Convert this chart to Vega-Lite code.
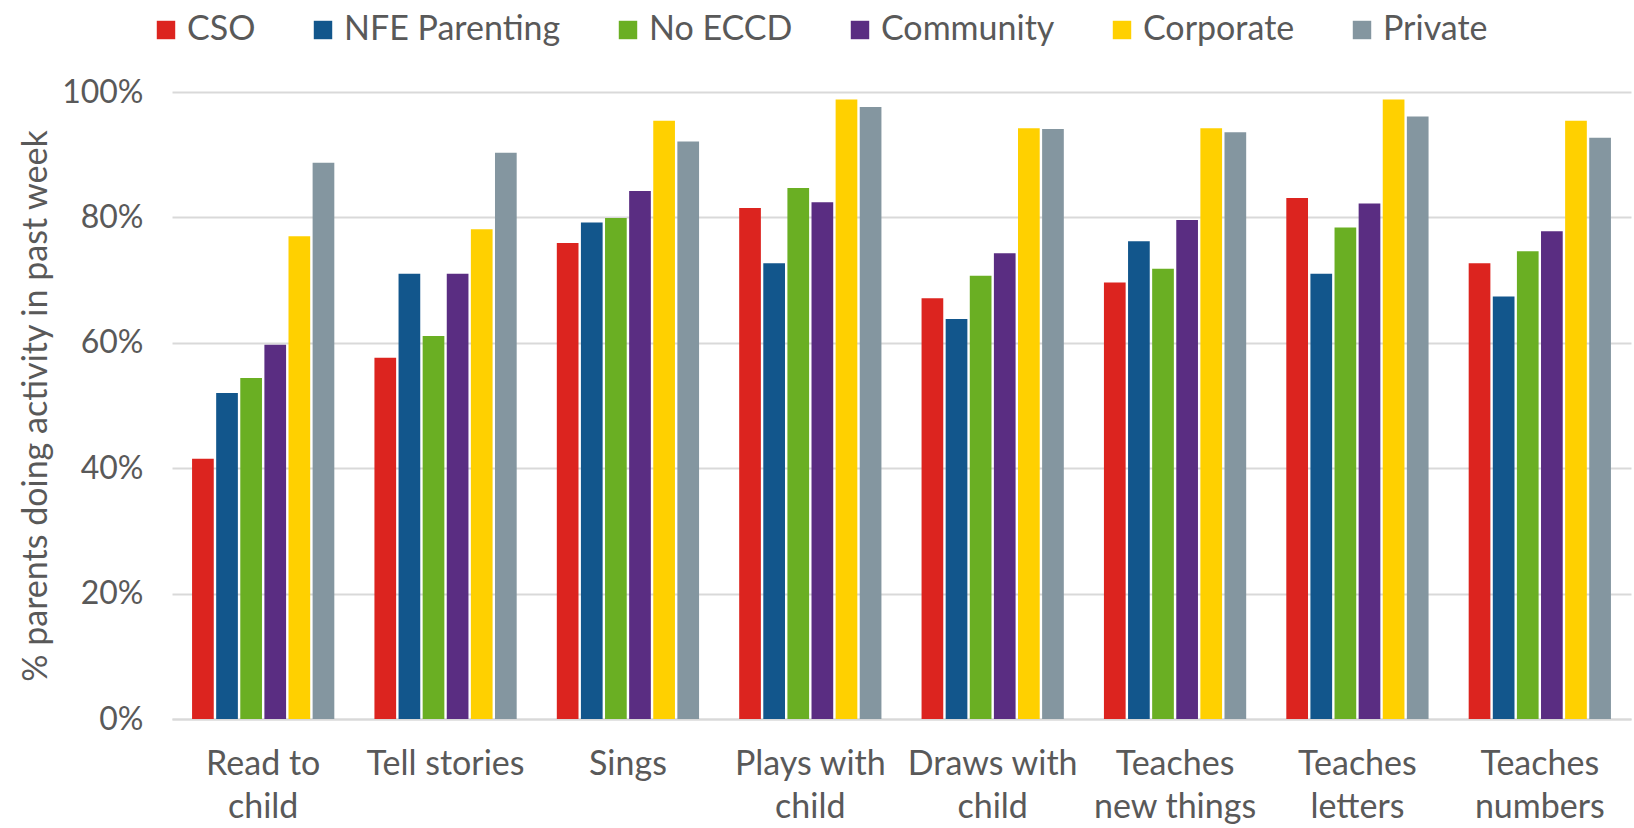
{
  "$schema": "https://vega.github.io/schema/vega-lite/v6.json",
  "autosize": {"type": "none"},
  "width": 1459,
  "height": 627,
  "padding": {"left": 172, "top": 92, "right": 3, "bottom": 109},
  "background": "white",
  "config": {
    "font": "Lato",
    "view": {"stroke": null}
  },
  "data": {
    "values": [
      {"activity": "Read to child", "group": "CSO", "pct": 41.5},
      {"activity": "Read to child", "group": "NFE Parenting", "pct": 52.0},
      {"activity": "Read to child", "group": "No ECCD", "pct": 54.4},
      {"activity": "Read to child", "group": "Community", "pct": 59.7},
      {"activity": "Read to child", "group": "Corporate", "pct": 77.0},
      {"activity": "Read to child", "group": "Private", "pct": 88.7},
      {"activity": "Tell stories", "group": "CSO", "pct": 57.6},
      {"activity": "Tell stories", "group": "NFE Parenting", "pct": 71.0},
      {"activity": "Tell stories", "group": "No ECCD", "pct": 61.1},
      {"activity": "Tell stories", "group": "Community", "pct": 71.0},
      {"activity": "Tell stories", "group": "Corporate", "pct": 78.1},
      {"activity": "Tell stories", "group": "Private", "pct": 90.3},
      {"activity": "Sings", "group": "CSO", "pct": 75.9},
      {"activity": "Sings", "group": "NFE Parenting", "pct": 79.2},
      {"activity": "Sings", "group": "No ECCD", "pct": 79.9},
      {"activity": "Sings", "group": "Community", "pct": 84.2},
      {"activity": "Sings", "group": "Corporate", "pct": 95.4},
      {"activity": "Sings", "group": "Private", "pct": 92.1},
      {"activity": "Plays with child", "group": "CSO", "pct": 81.5},
      {"activity": "Plays with child", "group": "NFE Parenting", "pct": 72.7},
      {"activity": "Plays with child", "group": "No ECCD", "pct": 84.7},
      {"activity": "Plays with child", "group": "Community", "pct": 82.4},
      {"activity": "Plays with child", "group": "Corporate", "pct": 98.8},
      {"activity": "Plays with child", "group": "Private", "pct": 97.6},
      {"activity": "Draws with child", "group": "CSO", "pct": 67.1},
      {"activity": "Draws with child", "group": "NFE Parenting", "pct": 63.8},
      {"activity": "Draws with child", "group": "No ECCD", "pct": 70.7},
      {"activity": "Draws with child", "group": "Community", "pct": 74.3},
      {"activity": "Draws with child", "group": "Corporate", "pct": 94.2},
      {"activity": "Draws with child", "group": "Private", "pct": 94.1},
      {"activity": "Teaches new things", "group": "CSO", "pct": 69.6},
      {"activity": "Teaches new things", "group": "NFE Parenting", "pct": 76.2},
      {"activity": "Teaches new things", "group": "No ECCD", "pct": 71.8},
      {"activity": "Teaches new things", "group": "Community", "pct": 79.6},
      {"activity": "Teaches new things", "group": "Corporate", "pct": 94.2},
      {"activity": "Teaches new things", "group": "Private", "pct": 93.6},
      {"activity": "Teaches letters", "group": "CSO", "pct": 83.1},
      {"activity": "Teaches letters", "group": "NFE Parenting", "pct": 71.0},
      {"activity": "Teaches letters", "group": "No ECCD", "pct": 78.4},
      {"activity": "Teaches letters", "group": "Community", "pct": 82.2},
      {"activity": "Teaches letters", "group": "Corporate", "pct": 98.8},
      {"activity": "Teaches letters", "group": "Private", "pct": 96.1},
      {"activity": "Teaches numbers", "group": "CSO", "pct": 72.7},
      {"activity": "Teaches numbers", "group": "NFE Parenting", "pct": 67.4},
      {"activity": "Teaches numbers", "group": "No ECCD", "pct": 74.6},
      {"activity": "Teaches numbers", "group": "Community", "pct": 77.8},
      {"activity": "Teaches numbers", "group": "Corporate", "pct": 95.4},
      {"activity": "Teaches numbers", "group": "Private", "pct": 92.7}
    ]
  },
  "mark": {"type": "bar"},
  "encoding": {
    "x": {
      "field": "activity",
      "type": "nominal",
      "sort": ["Read to child", "Tell stories", "Sings", "Plays with child", "Draws with child", "Teaches new things", "Teaches letters", "Teaches numbers"],
      "scale": {"paddingInner": 0.22, "paddingOuter": 0.11},
      "axis": {
        "title": null,
        "labelAngle": 0,
        "ticks": false,
        "labelFontSize": 34,
        "labelColor": "#595959",
        "labelPadding": 28,
        "labelBaseline": "top",
        "labelLineHeight": 43,
        "labelLimit": 300,
        "domainColor": "#d9d9d9",
        "domainWidth": 2,
        "labelExpr": "datum.value == 'Read to child' ? ['Read to', 'child'] : datum.value == 'Plays with child' ? ['Plays with', 'child'] : datum.value == 'Draws with child' ? ['Draws with', 'child'] : datum.value == 'Teaches new things' ? ['Teaches', 'new things'] : datum.value == 'Teaches letters' ? ['Teaches', 'letters'] : datum.value == 'Teaches numbers' ? ['Teaches', 'numbers'] : datum.value"
      }
    },
    "xOffset": {
      "field": "group",
      "type": "nominal",
      "sort": ["CSO", "NFE Parenting", "No ECCD", "Community", "Corporate", "Private"],
      "scale": {"paddingInner": 0.1}
    },
    "y": {
      "field": "pct",
      "type": "quantitative",
      "scale": {"domain": [0, 100], "nice": false},
      "axis": {
        "title": "% parents doing activity in past week",
        "titleFontSize": 34,
        "titleFontWeight": "normal",
        "titleColor": "#595959",
        "titlePadding": 8,
        "values": [0, 20, 40, 60, 80, 100],
        "labelExpr": "datum.value + '%'",
        "labelFontSize": 32,
        "labelColor": "#595959",
        "labelPadding": 29,
        "ticks": false,
        "domain": false,
        "gridColor": "#d9d9d9",
        "gridWidth": 2
      }
    },
    "color": {
      "field": "group",
      "type": "nominal",
      "sort": ["CSO", "NFE Parenting", "No ECCD", "Community", "Corporate", "Private"],
      "scale": {
        "domain": ["CSO", "NFE Parenting", "No ECCD", "Community", "Corporate", "Private"],
        "range": ["#DC241F", "#12568C", "#6AAF23", "#5A2D82", "#FFD000", "#8496A0"]
      },
      "legend": {
        "title": null,
        "orient": "none",
        "legendX": -23,
        "legendY": -79,
        "direction": "horizontal",
        "columns": 6,
        "symbolType": "square",
        "symbolSize": 340,
        "symbolStrokeWidth": 0,
        "labelFontSize": 34,
        "labelColor": "#595959",
        "labelOffset": 4,
        "columnPadding": 50,
        "labelLimit": 400
      }
    }
  }
}
